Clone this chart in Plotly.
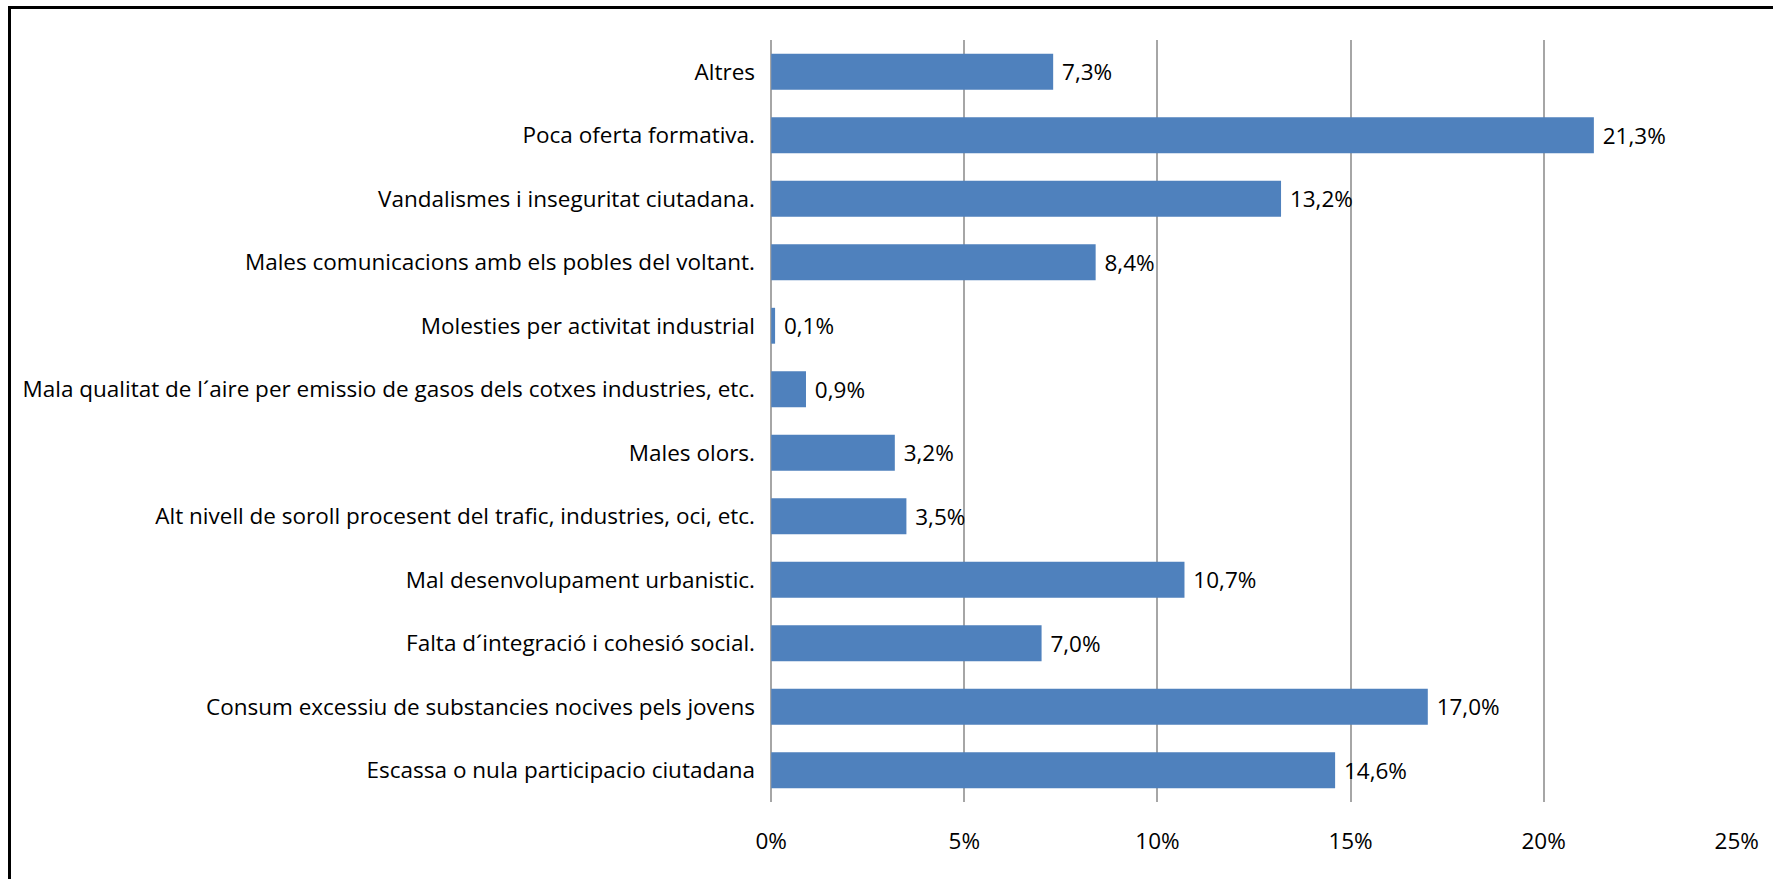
import plotly.graph_objects as go

categories = [
    "Altres",
    "Poca oferta formativa.",
    "Vandalismes i inseguritat ciutadana.",
    "Males comunicacions amb els pobles del voltant.",
    "Molesties per activitat industrial",
    "Mala qualitat de l´aire per emissio de gasos dels cotxes industries, etc.",
    "Males olors.",
    "Alt nivell de soroll procesent del trafic, industries, oci, etc.",
    "Mal desenvolupament urbanistic.",
    "Falta d´integració i cohesió social.",
    "Consum excessiu de substancies nocives pels jovens",
    "Escassa o nula participacio ciutadana",
]
values = [7.3, 21.3, 13.2, 8.4, 0.1, 0.9, 3.2, 3.5, 10.7, 7.0, 17.0, 14.6]
x_ticks = [0, 5, 10, 15, 20, 25]
x_tick_labels = ["0%", "5%", "10%", "15%", "20%", "25%"]

W, H = 1773, 879
ml, mr, mt, mb = 771, 36, 40, 77
pw, ph = W - ml - mr, H - mt - mb

def px_x(p):
    return (p - ml) / pw

def px_y(p):
    return 1 - (p - mt) / ph

font_family = "'Open Sans', sans-serif"
fs = 22.5

fig = go.Figure(go.Bar(
    x=values,
    y=categories,
    orientation="h",
    marker=dict(color="#4F81BD", line=dict(width=0)),
    texttemplate=" %{x:.1f}%",
    textposition="outside",
    textfont=dict(family=font_family, size=fs, color="#000000"),
    cliponaxis=False,
    hoverinfo="skip",
))

fig.update_layout(
    width=W, height=H,
    margin=dict(l=ml, r=mr, t=mt, b=mb, autoexpand=False),
    paper_bgcolor="white",
    plot_bgcolor="white",
    separators=",.",
    bargap=0.435,
    showlegend=False,
    font=dict(family=font_family, size=fs, color="#000000"),
    xaxis=dict(
        range=[-0.006, 25.006],
        tickvals=x_ticks,
        ticktext=x_tick_labels,
        showgrid=True,
        gridcolor="#A6A6A6",
        gridwidth=1.5,
        zeroline=True,
        zerolinecolor="#A6A6A6",
        zerolinewidth=1.5,
        showline=False,
        ticks="",
        ticklabelstandoff=23,
        tickfont=dict(family=font_family, size=fs, color="#000000"),
        fixedrange=True,
    ),
    yaxis=dict(
        autorange="reversed",
        showgrid=False,
        showline=False,
        zeroline=False,
        ticks="",
        ticklabelstandoff=15,
        tickfont=dict(family=font_family, size=fs, color="#000000"),
        fixedrange=True,
    ),
    shapes=[
        dict(type="rect", xref="paper", yref="paper",
             x0=px_x(9.5), x1=px_x(W + 20), y0=px_y(H + 20), y1=px_y(7.5),
             line=dict(color="#000000", width=3), fillcolor="rgba(0,0,0,0)",
             layer="above"),
    ],
)

fig.write_html(
    "out.html",
    config={"displayModeBar": False},
    post_script="document.body.style.margin='0';document.body.style.overflow='hidden';",
)
